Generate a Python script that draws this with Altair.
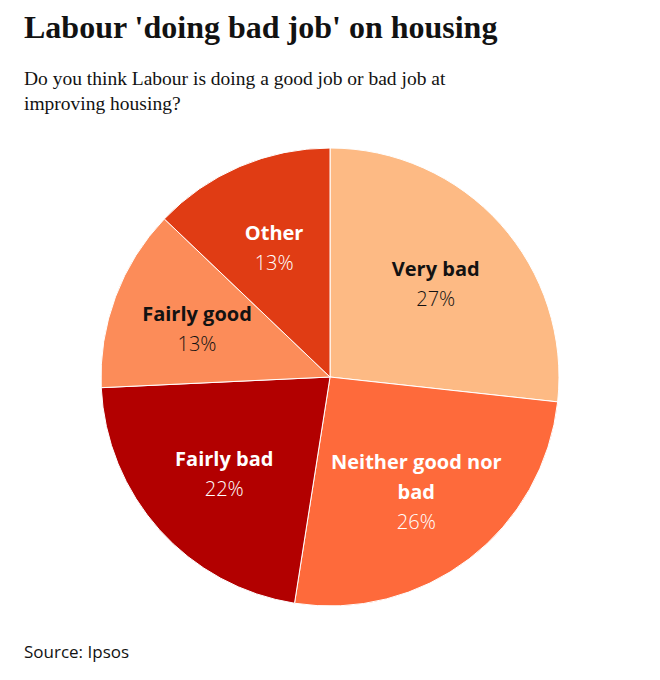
import altair as alt
import pandas as pd

categories = ["Very bad", "Neither good nor bad", "Fairly bad", "Fairly good", "Other"]
label_text = ["Very bad", "Neither good nor\nbad", "Fairly bad", "Fairly good", "Other"]
values = [27, 26, 22, 13, 13]
colors = ["#fdba84", "#fe6a3b", "#b20000", "#fc8c59", "#e03c14"]

title_text = "Labour 'doing bad job' on housing"
subtitle_lines = ["Do you think Labour is doing a good job or bad job at", "improving housing?"]
source_text = "Source: Ipsos"

df = pd.DataFrame({
    "category": categories,
    "label": label_text,
    "value": values,
    "idx": list(range(len(categories))),
})
df["nlines"] = df["label"].str.count("\n") + 1
df["pct"] = df["value"].astype(str) + "%"

CX, CY = 322, 369
R = 229
LR = 142
LH = 30
SHIFT = 3

arcs = alt.Chart(df).mark_arc(radius=R, stroke="white", strokeWidth=1).encode(
    theta=alt.Theta("value:Q", stack=True, scale=alt.Scale(nice=False)),
    order=alt.Order("idx:Q", sort="ascending"),
    color=alt.Color("category:N", scale=alt.Scale(domain=categories, range=colors), legend=None),
    x=alt.value(CX),
    y=alt.value(CY),
)

dark_cond = "datum.category == 'Very bad' || datum.category == 'Fairly good'"

text_base = alt.Chart(df).transform_window(
    cum="sum(value)", sort=[alt.SortField("idx", order="ascending")]
).transform_calculate(
    mid="datum.cum - datum.value / 2"
).encode(
    theta=alt.Theta("mid:Q", stack=False),
    fill=alt.condition(dark_cond, alt.value("#121212"), alt.value("#ffffff")),
    x=alt.value(CX),
    y=alt.value(CY),
)


def name_layer(n, dy):
    return text_base.transform_filter(f"datum.nlines == {n}").mark_text(
        radius=LR, font="Open Sans", fontSize=20, fontWeight="bold", lineBreak="\n",
        lineHeight=LH, align="center", baseline="middle", dy=dy + SHIFT,
    ).encode(text="label:N")


def pct_layer(n, dy):
    return text_base.transform_filter(f"datum.nlines == {n}").mark_text(
        radius=LR, font="Open Sans", fontSize=20, fontWeight=300,
        align="center", baseline="middle", dy=dy + SHIFT,
    ).encode(text="pct:N")


names1 = name_layer(1, -LH / 2)
names2 = name_layer(2, -LH)
pcts1 = pct_layer(1, LH / 2)
pcts2 = pct_layer(2, LH)

title_df = pd.DataFrame({"t": [title_text]})
title = alt.Chart(title_df).mark_text(
    font="Liberation Serif", fontSize=32, fontWeight="bold", align="left", baseline="alphabetic",
    color="#121212",
).encode(text="t:N", x=alt.value(16), y=alt.value(30))

sub_df = pd.DataFrame({"t": ["\n".join(subtitle_lines)]})
subtitle = alt.Chart(sub_df).mark_text(
    font="Liberation Serif", fontSize=19.5, align="left", baseline="alphabetic",
    lineBreak="\n", lineHeight=25, color="#121212",
).encode(text="t:N", x=alt.value(16), y=alt.value(77))

src_df = pd.DataFrame({"t": [source_text]})
source = alt.Chart(src_df).mark_text(
    font="Open Sans", fontSize=17, align="left", baseline="alphabetic", color="#121212",
).encode(text="t:N", x=alt.value(16), y=alt.value(650))

chart = alt.layer(arcs, names1, names2, pcts1, pcts2, title, subtitle, source).properties(
    width=644, height=664, padding=0, autosize=alt.AutoSizeParams(type="none"),
    background="white",
).configure_view(stroke=None)

chart.save("out.html", embed_options={"renderer": "svg", "actions": False})
